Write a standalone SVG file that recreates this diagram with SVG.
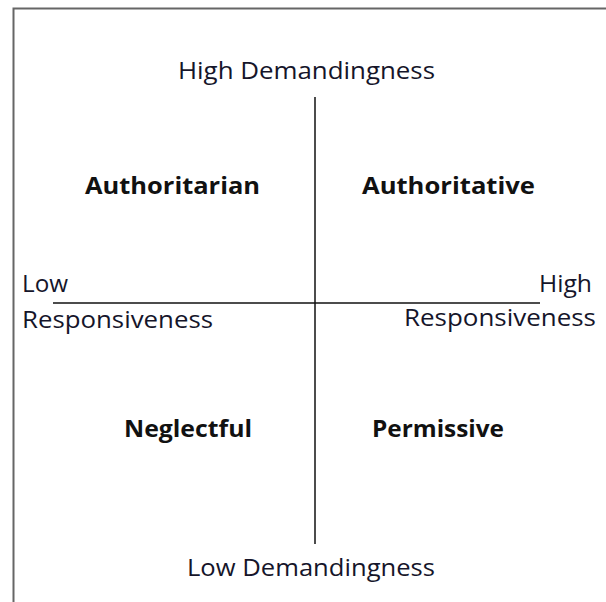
<svg xmlns="http://www.w3.org/2000/svg" width="606" height="602" viewBox="0 0 606 602">
<style>
.t{font-family:"Open Sans","Noto Sans",sans-serif;font-size:24px;fill:#15152a}
.b{font-family:"Open Sans","Noto Sans",sans-serif;font-size:22.5px;font-weight:bold;fill:#111}
.ax{stroke:#111;stroke-width:1.5;fill:none}
</style>
<rect width="606" height="602" fill="#fff"/>
<g id="frame"><path d="M13.5,602 V8.5 H606" stroke="#666" stroke-width="2" fill="none"/></g>
<g id="connectors">
<line class="ax" x1="315" y1="97" x2="315" y2="544"/>
<line class="ax" x1="53" y1="303" x2="540" y2="303"/>
</g>
<g id="high-demand"><text class="t" x="178" y="79" textLength="257" lengthAdjust="spacingAndGlyphs">High Demandingness</text></g>
<g id="low-demand"><text class="t" x="187" y="576" textLength="248" lengthAdjust="spacingAndGlyphs">Low Demandingness</text></g>
<g id="low-resp"><text class="t" x="22" y="292" textLength="46" lengthAdjust="spacingAndGlyphs">Low</text><text class="t" x="22" y="328" textLength="191" lengthAdjust="spacingAndGlyphs">Responsiveness</text></g>
<g id="high-resp"><text class="t" x="539" y="292" textLength="53" lengthAdjust="spacingAndGlyphs">High</text><text class="t" x="404" y="326" textLength="192" lengthAdjust="spacingAndGlyphs">Responsiveness</text></g>
<g id="authoritarian"><text class="b" x="85" y="194" textLength="175" lengthAdjust="spacingAndGlyphs">Authoritarian</text></g>
<g id="authoritative"><text class="b" x="362" y="194" textLength="173" lengthAdjust="spacingAndGlyphs">Authoritative</text></g>
<g id="neglectful"><text class="b" x="124" y="437" textLength="128" lengthAdjust="spacingAndGlyphs">Neglectful</text></g>
<g id="permissive"><text class="b" x="372" y="437" textLength="132" lengthAdjust="spacingAndGlyphs">Permissive</text></g>
</svg>
